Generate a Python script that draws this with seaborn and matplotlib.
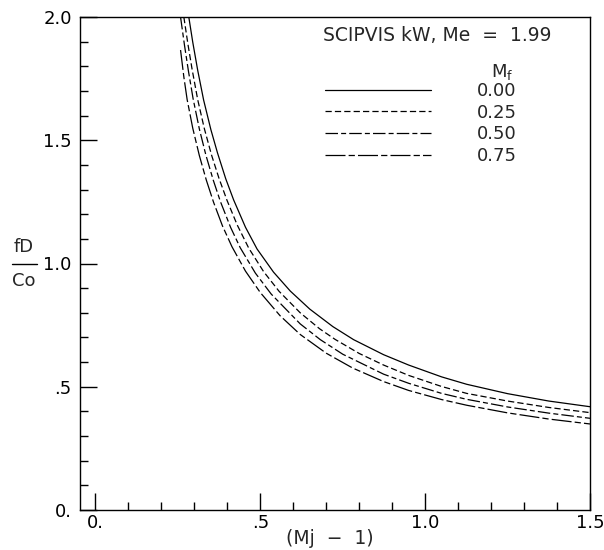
import numpy as np
import pandas as pd
import seaborn as sns
import matplotlib
matplotlib.use("Agg")
import matplotlib.pyplot as plt
from matplotlib.lines import Line2D
from matplotlib.ticker import FixedLocator, FixedFormatter, MultipleLocator

# ---- data ----
mf_labels = ["0.00", "0.25", "0.50", "0.75"]

x_mf000 = [0.283, 0.295, 0.310, 0.328, 0.350, 0.370, 0.395, 0.419, 0.455, 0.490, 0.540,
           0.591, 0.650, 0.720, 0.783, 0.874, 0.950, 1.050, 1.126, 1.250, 1.375, 1.500]
y_mf000 = [2.000, 1.898, 1.784, 1.663, 1.543, 1.449, 1.344, 1.258, 1.147, 1.059, 0.965,
           0.888, 0.815, 0.744, 0.691, 0.630, 0.588, 0.540, 0.510, 0.472, 0.442, 0.419]

x_mf025 = [0.268, 0.280, 0.293, 0.310, 0.330, 0.352, 0.375, 0.399, 0.430, 0.465, 0.510,
           0.557, 0.621, 0.680, 0.727, 0.800, 0.874, 0.950, 1.050, 1.126, 1.250, 1.375, 1.500]
y_mf025 = [2.000, 1.893, 1.788, 1.665, 1.548, 1.440, 1.344, 1.256, 1.156, 1.062, 0.967,
           0.887, 0.800, 0.735, 0.692, 0.635, 0.588, 0.546, 0.501, 0.473, 0.442, 0.416, 0.395]

x_mf050 = [0.258, 0.270, 0.282, 0.296, 0.315, 0.335, 0.357, 0.379, 0.410, 0.439, 0.485,
           0.533, 0.621, 0.682, 0.750, 0.874, 0.950, 1.050, 1.126, 1.250, 1.375, 1.500]
y_mf050 = [2.000, 1.885, 1.780, 1.669, 1.546, 1.439, 1.339, 1.251, 1.146, 1.064, 0.961,
           0.876, 0.755, 0.691, 0.632, 0.551, 0.514, 0.473, 0.449, 0.418, 0.393, 0.372]

x_mf075 = [0.258, 0.268, 0.278, 0.295, 0.315, 0.336, 0.358, 0.385, 0.414, 0.455, 0.500,
           0.560, 0.621, 0.700, 0.780, 0.874, 0.950, 1.050, 1.126, 1.250, 1.375, 1.500]
y_mf075 = [1.866, 1.757, 1.665, 1.549, 1.438, 1.339, 1.249, 1.153, 1.068, 0.969, 0.882,
           0.788, 0.712, 0.636, 0.576, 0.521, 0.485, 0.448, 0.425, 0.394, 0.369, 0.349]

x_ticks = [0.0, 0.5, 1.0, 1.5]
x_ticklabels = ["0.", ".5", "1.0", "1.5"]
y_ticks = [0.0, 0.5, 1.0, 1.5, 2.0]
y_ticklabels = ["0.", ".5", "1.0", "1.5", "2.0"]

frames = []
for lab, xs, ys in zip(mf_labels,
                       [x_mf000, x_mf025, x_mf050, x_mf075],
                       [y_mf000, y_mf025, y_mf050, y_mf075]):
    frames.append(pd.DataFrame({"x": xs, "y": ys, "Mf": lab}))
df = pd.concat(frames, ignore_index=True)

# ---- style ----
sns.set_style("ticks")
plt.rcParams["font.family"] = ["DejaVu Sans"]
plt.rcParams["mathtext.fontset"] = "custom"
plt.rcParams["mathtext.rm"] = "DejaVu Sans"

dash_map = {
    "0.00": "",
    "0.25": (5, 2.5),
    "0.50": (10, 2.5, 4, 2.5),
    "0.75": (16, 2.5, 5, 2.5),
}
LW = 0.9
FS = 13

fig = plt.figure(figsize=(6.04, 5.50), dpi=100)
ax = fig.add_axes([80 / 604, 1 - 510 / 550, 510 / 604, 493 / 550])

sns.lineplot(data=df, x="x", y="y", style="Mf", dashes=dash_map,
             color="black", linewidth=LW, sort=False, estimator=None,
             legend=False, ax=ax)

ax.set_xlim(-0.047, 1.5)
ax.set_ylim(0.0, 2.0)

for sp in ax.spines.values():
    sp.set_linewidth(1.0)
    sp.set_color("black")

ax.xaxis.set_major_locator(FixedLocator(x_ticks))
ax.xaxis.set_major_formatter(FixedFormatter(x_ticklabels))
ax.yaxis.set_major_locator(FixedLocator(y_ticks))
ax.yaxis.set_major_formatter(FixedFormatter(y_ticklabels))
ax.xaxis.set_minor_locator(MultipleLocator(0.1))
ax.yaxis.set_minor_locator(MultipleLocator(0.1))
ax.tick_params(which="both", direction="in", top=False, right=False,
               color="black", width=1.0, labelsize=FS, labelcolor="black")
ax.tick_params(which="major", length=12)
ax.tick_params(which="minor", length=6)
ax.tick_params(axis="y", which="major", pad=6)
ax.tick_params(axis="x", which="major", pad=3)

ax.set_xlabel("")
ax.set_ylabel("")

# x label placed explicitly so it stays inside the figure
fig.text(330 / 604, 1 - 538 / 550, "(Mj  \u2212  1)", ha="center", va="center",
         fontsize=13.5)

# y label as a stacked fraction fD / Co
fig.text(24 / 604, 1 - 247 / 550, "fD", ha="center", va="center", fontsize=FS)
fig.text(24 / 604, 1 - 281 / 550, "Co", ha="center", va="center", fontsize=FS)
fig.add_artist(Line2D([12 / 604, 37 / 604], [1 - 264 / 550, 1 - 264 / 550],
                      color="black", linewidth=1.0, transform=fig.transFigure))

# annotation and legend
ax.text(0.476, 0.962, "SCIPVIS kW, Me  =  1.99", transform=ax.transAxes,
        ha="left", va="center", fontsize=13.5)
ax.text(0.827, 0.889, r"M$_\mathregular{f}$", transform=ax.transAxes,
        ha="center", va="center", fontsize=FS)

handles = [Line2D([], [], color="black", linewidth=LW,
                  linestyle=("-" if dash_map[l] == "" else (0, dash_map[l])))
           for l in mf_labels]
ax.legend(handles, mf_labels, loc="upper left", bbox_to_anchor=(0.48, 0.868),
          frameon=False, handlelength=5.9, handletextpad=2.5,
          labelspacing=0.2, borderpad=0, borderaxespad=0, fontsize=FS)

fig.savefig("out.png", dpi=100, facecolor="white")
